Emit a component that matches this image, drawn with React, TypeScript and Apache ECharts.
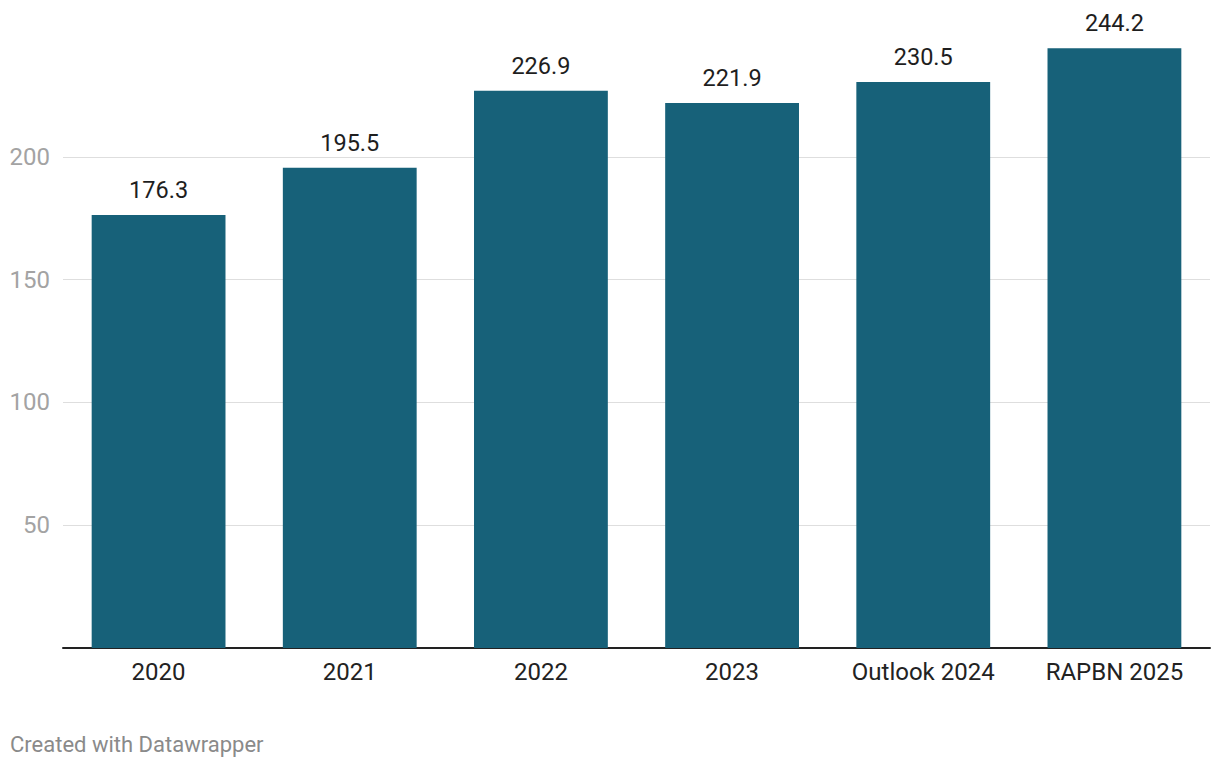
import React, { useEffect, useRef } from "react";
import * as echarts from "echarts";

const categories = ["2020", "2021", "2022", "2023", "Outlook 2024", "RAPBN 2025"];
const values = [176.3, 195.5, 226.9, 221.9, 230.5, 244.2];
const yTicks = [0, 50, 100, 150, 200, 250];

export default function App() {
  const ref = useRef<HTMLDivElement>(null);
  useEffect(() => {
    if (!ref.current) return;
    const chart = echarts.init(ref.current, null, { renderer: "svg" });
    chart.setOption({
      animation: false,
      textStyle: { fontFamily: "Roboto" },
      grid: { left: 63, right: 10, top: 34, bottom: 120, containLabel: false },
      xAxis: {
        type: "category",
        data: categories,
        axisLine: { show: true, lineStyle: { color: "#222", width: 2 } },
        axisTick: { show: false },
        axisLabel: { color: "#222", fontSize: 24, margin: 12, fontFamily: "Roboto" },
      },
      yAxis: {
        type: "value",
        min: yTicks[0],
        max: yTicks[yTicks.length - 1],
        interval: 50,
        axisLine: { show: false },
        axisTick: { show: false },
        axisLabel: {
          color: "#a3a3a3",
          fontSize: 24,
          margin: 13,
          showMinLabel: false,
          showMaxLabel: false,
          fontFamily: "Roboto",
        },
        splitLine: {
          show: true,
          showMinLine: false,
          showMaxLine: false,
          lineStyle: { color: "#dedede", width: 1 },
        },
      },
      series: [
        {
          type: "bar",
          data: values,
          barWidth: "70%",
          itemStyle: { color: "#176179" },
          label: {
            show: true,
            position: "top",
            distance: 13,
            color: "#1e1e1e",
            fontSize: 23.5,
            fontFamily: "Roboto",
            formatter: (p: any) => p.value.toFixed(1),
          },
        },
      ],
      graphic: [
        {
          type: "text",
          left: 10,
          top: 733,
          style: {
            text: "Created with Datawrapper",
            fill: "#8a8a8a",
            fontSize: 22,
            fontFamily: "Roboto",
          },
        },
      ],
    });
    return () => chart.dispose();
  }, []);
  return (
    <div
      ref={ref}
      style={{ position: "absolute", left: 0, top: 0, width: 1220, height: 768 }}
    />
  );
}
